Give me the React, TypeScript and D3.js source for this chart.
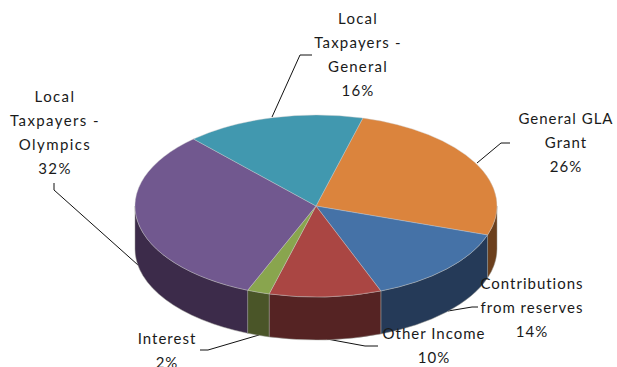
import React from "react";
import * as d3 from "d3";

// Funding sources, clockwise from the General GLA Grant slice
const sources = ["General GLA Grant", "Contributions from reserves", "Other Income", "Interest", "Local Taxpayers - Olympics", "Local Taxpayers - General"];
const shares = [26, 14, 10, 2, 32, 16];
const topColors = ["#db843d", "#4572a7", "#aa4643", "#89a54e", "#71588f", "#4198af"];
const wallColors = ["#6b3f1d", "#253a58", "#552323", "#4a5528", "#3c2b4a", "#2a5f6e"];
const labelLines = [
  ["General GLA", "Grant", "26%"],
  ["Contributions", "from reserves", "14%"],
  ["Other Income", "10%"],
  ["Interest", "2%"],
  ["Local", "Taxpayers -", "Olympics", "32%"],
  ["Local", "Taxpayers -", "General", "16%"],
];
const labelAnchors: [number, number][] = [[566, 119], [532, 284], [434, 334], [167, 339], [55, 97], [358, 19]];
const labelTracking = [1, 1, 1, 1, 1.4, 1.2];
const leaders: [number, number][][] = [
  [[477, 163], [501, 143], [510, 143]],
  [[448, 311], [472, 307], [478, 307]],
  [[327, 339], [365, 346], [378, 346]],
  [[259, 335], [208, 350], [200, 350]],
  [[138, 265], [54, 190], [54, 183]],
  [[272, 117], [300, 55], [312, 55]],
];

const WIDTH = 617;
const HEIGHT = 367;
const CX = 316;
const CY = 206;
const RX = 181;
const RY = 91;
const DEPTH = 43;
const START = (15 * Math.PI) / 180;
const LINE_STEP = 24;

const pie = d3.pie<number>().sort(null).startAngle(START).endAngle(START + 2 * Math.PI);
const px = d3.scaleLinear().domain([-1, 1]).range([CX - RX, CX + RX]);
const py = d3.scaleLinear().domain([-1, 1]).range([CY - RY, CY + RY]);
const rimX = (a: number) => px(Math.sin(a));
const rimY = (a: number, drop = 0) => py(-Math.cos(a)) + drop;

function topPath(a0: number, a1: number) {
  const large = a1 - a0 > Math.PI ? 1 : 0;
  return `M${CX},${CY}L${rimX(a0)},${rimY(a0)}A${RX},${RY} 0 ${large} 1 ${rimX(a1)},${rimY(a1)}Z`;
}

// Outer wall of a slice, limited to the part of the rim facing the viewer
function wallPath(a0: number, a1: number) {
  const from = Math.max(a0, Math.PI / 2);
  const to = Math.min(a1, (3 * Math.PI) / 2);
  if (to <= from) return null;
  return (
    `M${rimX(from)},${rimY(from)}A${RX},${RY} 0 0 1 ${rimX(to)},${rimY(to)}` +
    `L${rimX(to)},${rimY(to, DEPTH)}A${RX},${RY} 0 0 0 ${rimX(from)},${rimY(from, DEPTH)}Z`
  );
}

const leaderLine = d3.line();

export default function App() {
  const arcs = pie(shares);
  return (
    <svg
      width={WIDTH}
      height={HEIGHT}
      viewBox={`0 0 ${WIDTH} ${HEIGHT}`}
      style={{ position: "absolute", left: 0, top: 0, background: "#fff" }}
    >
      {leaders.map((pts, i) => (
        <path key={sources[i]} d={leaderLine(pts) ?? ""} fill="none" stroke="#111" strokeWidth={1} />
      ))}
      {arcs.map((a, i) => {
        const d = wallPath(a.startAngle, a.endAngle);
        return d ? <path key={i} d={d} fill={wallColors[i]} stroke="#9a9a94" strokeWidth={0.5} /> : null;
      })}
      {arcs.map((a, i) => (
        <path key={i} d={topPath(a.startAngle, a.endAngle)} fill={topColors[i]} stroke="#c9c9c9" strokeWidth={0.4} />
      ))}
      {labelLines.map((lines, i) => (
        <text
          key={sources[i]}
          textAnchor="middle"
          fontFamily="Lato, sans-serif"
          fontSize={15}
          letterSpacing={labelTracking[i]}
          fill="#1a1a1a"
        >
          {lines.map((line, j) => (
            <tspan key={j} x={labelAnchors[i][0]} y={labelAnchors[i][1] + 5 + j * LINE_STEP}>
              {line}
            </tspan>
          ))}
        </text>
      ))}
    </svg>
  );
}
